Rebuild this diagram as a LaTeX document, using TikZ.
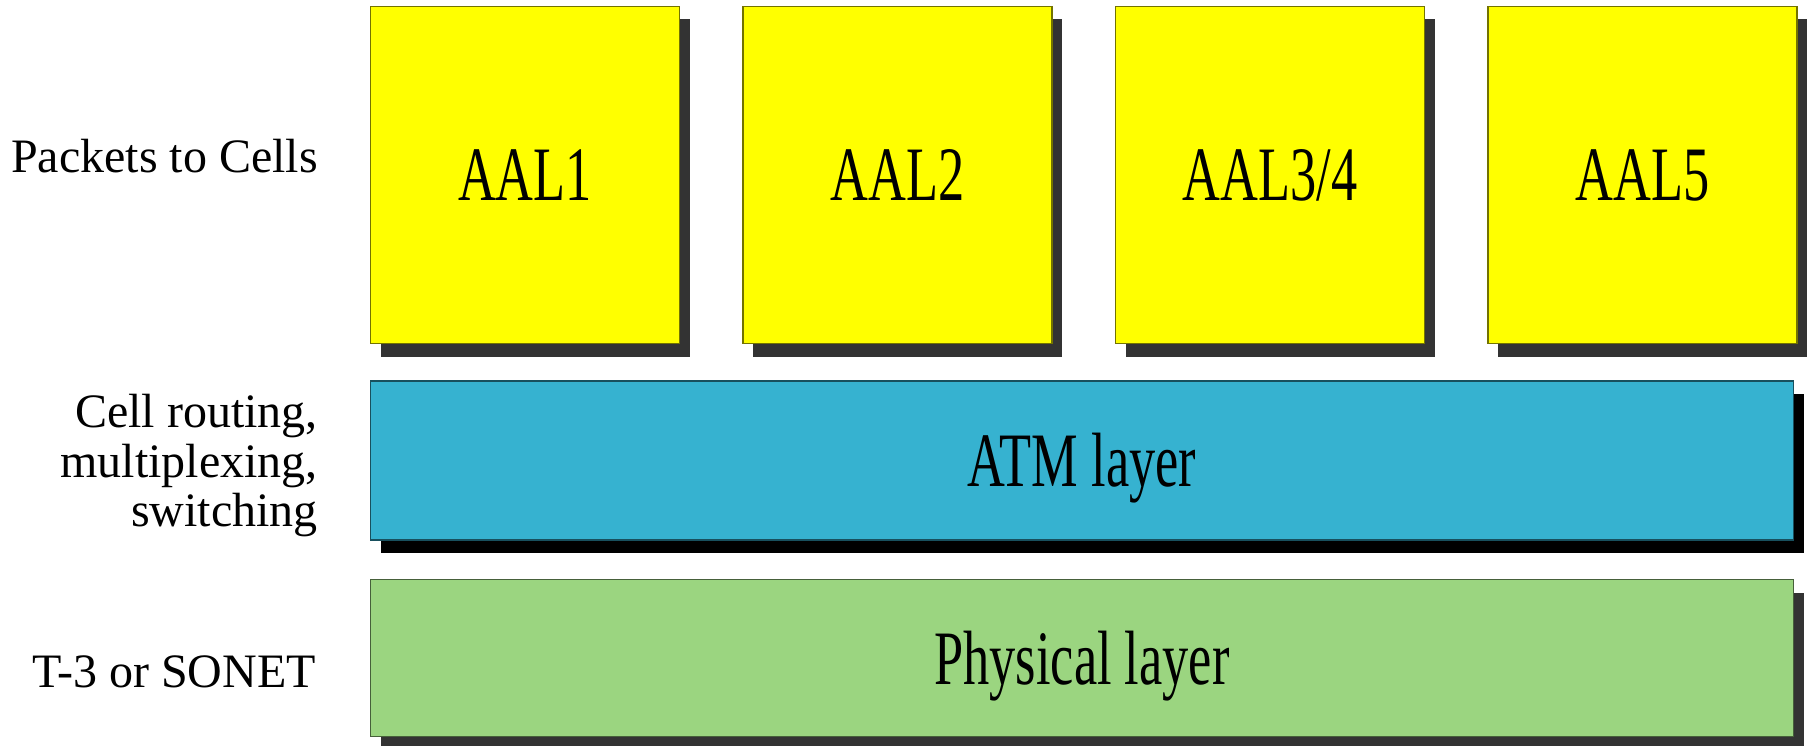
\documentclass[tikz,border=0pt]{standalone}
\usepackage{fontspec}
\usepackage{xcolor}
\usepackage{tikz}
\setmainfont{Liberation Serif}
\newfontfamily\layerfont[FakeStretch=0.68]{Liberation Serif}
\usetikzlibrary{positioning, shadows}
\definecolor{aalyellow}{RGB}{255, 255, 0}
\definecolor{atmblue}{RGB}{54, 178, 208}
\definecolor{phygreen}{RGB}{155, 213, 128}
\definecolor{shadowgray}{RGB}{51, 51, 51}

\begin{document}
\begin{tikzpicture}[x=1pt, y=-1pt,
    layerbox/.style={fill=#1, draw=#1!45!black, line width=1.5pt, inner sep=0pt,
                     text height=52pt, text depth=0pt,
                     font=\layerfont\fontsize{77}{80}\selectfont},
    aalbox/.style={layerbox=aalyellow, minimum width=309pt, minimum height=337pt,
                   drop shadow={shadow xshift=10pt, shadow yshift=-13pt, fill=shadowgray, opacity=1}},
    sidelabel/.style={inner sep=0pt, align=right, font=\fontsize{48}{49.5}\selectfont}]
    \useasboundingbox (0,0) rectangle (1808,746);

    % adaptation layer
    \node[aalbox] (aal1) at (525,175) {AAL1};
    \node[aalbox, right=62pt of aal1] (aal2) {AAL2};
    \node[aalbox, right=62pt of aal2] (aal3) {AAL3/4};
    \node[aalbox, right=62pt of aal3] (aal5) {AAL5};

    % lower layers
    \node[layerbox=atmblue, minimum width=1423pt, minimum height=159pt, anchor=north west,
          drop shadow={shadow xshift=10pt, shadow yshift=-13pt, fill=black, opacity=1}]
          (atm) at ([yshift=-36pt]aal1.south west) {ATM layer};
    \node[layerbox=phygreen, minimum width=1423pt, minimum height=157pt, anchor=north west,
          drop shadow={shadow xshift=10pt, shadow yshift=-13pt, fill=shadowgray, opacity=1}]
          (phy) at ([yshift=-38pt]atm.south west) {Physical layer};

    % functions
    \node[sidelabel, anchor=base east] (pktlbl) at (318,173) {Packets to Cells};
    \node[sidelabel, anchor=east] (atmlbl) at (318,466) {Cell routing,\\ multiplexing,\\ switching};
    \node[sidelabel, anchor=base east] (phylbl) at (316,687) {T-3 or SONET};
\end{tikzpicture}
\end{document}
